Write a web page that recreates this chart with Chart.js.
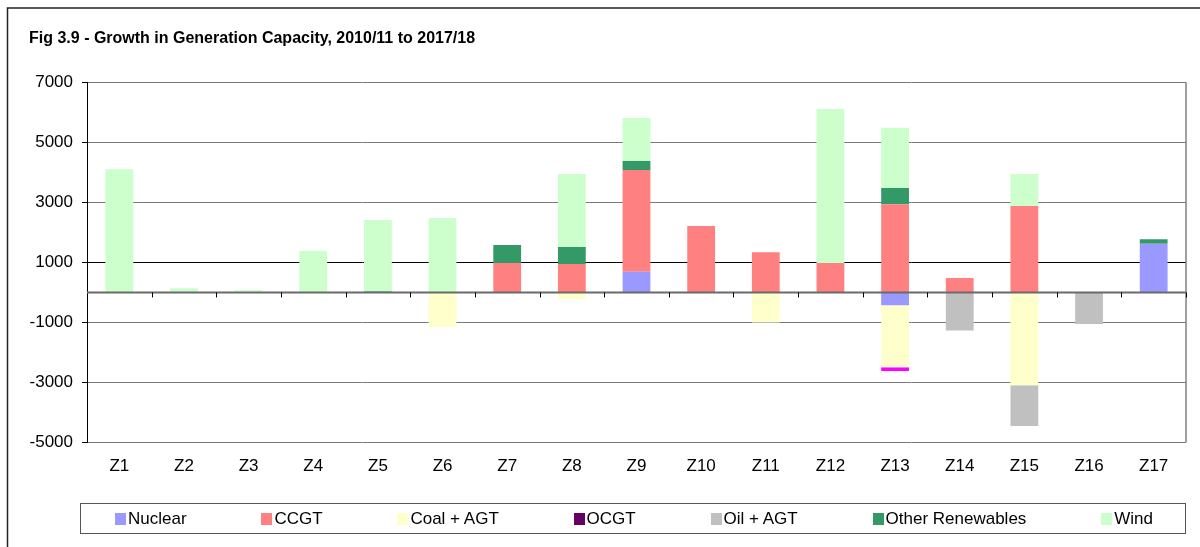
<!DOCTYPE html>
<html>
<head>
<meta charset="utf-8">
<script src="https://cdn.jsdelivr.net/npm/chart.js@4"></script>
<style>
  body { margin: 0; background: #fff; }
  #wrap { position: relative; width: 1200px; height: 547px; overflow: hidden; }
  #legend {
    position: absolute; left: 80px; top: 503px; width: 1106px; height: 31px;
    border: 1.5px solid #555; box-sizing: border-box;
    display: flex; align-items: center; justify-content: space-between;
    padding: 0 32px 0 34px;
    font: 17px "Liberation Sans", Arial, sans-serif; color: #000;
  }
  #legend .item { display: flex; align-items: center; white-space: nowrap; }
  #legend .sw { width: 11px; height: 12px; margin-right: 2px; }
</style>
</head>
<body>
<div id="wrap">
  <canvas id="chart" width="1200" height="547"></canvas>
  <div id="legend"></div>
</div>
<script>
// data (MW)
const zones = ["Z1","Z2","Z3","Z4","Z5","Z6","Z7","Z8","Z9","Z10","Z11","Z12","Z13","Z14","Z15","Z16","Z17"];
const nuclear   = [null, null, null, null, null, null, null, null, 690, null, null, null, -430, null, null, null, 1620];
const ccgt      = [null, null, null, null, null, null, 980, 950, 3390, 2210, 1340, 980, 2940, 480, 2880, null, null];
const coalAgt   = [null, null, null, null, null, -1150, null, -230, null, null, -1000, null, -2060, null, -3090, null, null];
const ocgt      = [null, null, null, null, null, null, null, null, null, null, null, null, null, null, null, null, null];
const oilAgt    = [null, null, null, null, null, null, null, null, null, null, null, null, null, -1270, -1360, -1050, null];
const otherRen  = [null, null, null, null, 30, null, 600, 560, 300, null, null, null, 540, null, null, null, 150];
const wind      = [4100, 140, 70, 1380, 2380, 2480, null, 2430, 1430, null, null, 5130, 2000, null, 1060, null, null];
const unlabeled = [null, null, null, null, null, null, null, null, null, null, null, null, -130, null, null, null, null];
const yTicks = [-5000, -3000, -1000, 1000, 3000, 5000, 7000];

const FONT = "'Liberation Sans', Arial, sans-serif";

const datasets = [
    { label: "Nuclear", data: nuclear, backgroundColor: "#9999FF" },
    { label: "CCGT", data: ccgt, backgroundColor: "#FF8080" },
    { label: "Coal + AGT", data: coalAgt, backgroundColor: "#FFFFCC" },
    { label: "OCGT", data: ocgt, backgroundColor: "#660066" },
    { label: "Oil + AGT", data: oilAgt, backgroundColor: "#C0C0C0" },
    { label: "Other Renewables", data: otherRen, backgroundColor: "#339966" },
    { label: "Wind", data: wind, backgroundColor: "#CCFFCC" },
    { label: "", data: unlabeled, backgroundColor: "#FF00FF", noLegend: true }
];
datasets.forEach(d => {
    d.borderWidth = 0;
    d.categoryPercentage = 1;
    d.barPercentage = 0.43;
});

// frame, zero line and category tick marks
const decor = {
    id: "decor",
    beforeDraw(chart) {
        const c = chart.ctx;
        c.save();
        c.fillStyle = "#fff";
        c.fillRect(0, 0, chart.width, chart.height);
        c.strokeStyle = "#222";
        c.lineWidth = 1.5;
        c.beginPath();
        c.moveTo(7.5, chart.height + 5);
        c.lineTo(7.5, 8);
        c.lineTo(chart.width + 5, 8);
        c.stroke();
        c.restore();
    },
    afterDatasetsDraw(chart) {
        const c = chart.ctx;
        const a = chart.chartArea;
        const y0 = chart.scales.y.getPixelForValue(0);
        c.save();
        c.strokeStyle = "#808080";
        c.lineWidth = 1.5;
        c.beginPath();
        c.moveTo(a.right, a.top);
        c.lineTo(a.right, a.bottom);
        c.stroke();
        c.strokeStyle = "#6a6a6a";
        c.lineWidth = 2;
        c.beginPath();
        c.moveTo(a.left, y0);
        c.lineTo(a.right, y0);
        c.stroke();
        c.strokeStyle = "#000";
        c.lineWidth = 1;
        const w = (a.right - a.left) / zones.length;
        for (let i = 1; i <= zones.length; i++) {
            const px = Math.round(a.left + i * w) + 0.5;
            c.beginPath();
            c.moveTo(px, y0);
            c.lineTo(px, y0 + 5);
            c.stroke();
        }
        c.restore();
    }
};

const ctx = document.getElementById("chart").getContext("2d");
const chart = new Chart(ctx, {
    type: "bar",
    data: { labels: zones, datasets: datasets },
    plugins: [decor],
    options: {
        responsive: false,
        animation: false,
        layout: { padding: { left: 29, right: 14, top: 29, bottom: 56 } },
        plugins: {
            legend: { display: false },
            tooltip: { enabled: false },
            title: {
                display: true,
                text: "Fig 3.9 - Growth in Generation Capacity, 2010/11 to 2017/18",
                align: "start",
                color: "#000",
                font: { family: FONT, size: 16, weight: "bold" },
                padding: { top: 0, bottom: 34 }
            }
        },
        scales: {
            x: {
                stacked: true,
                grid: { display: false, drawTicks: false },
                border: { display: false },
                ticks: { color: "#000", font: { family: FONT, size: 17 }, padding: 14, maxRotation: 0 }
            },
            y: {
                stacked: true,
                min: -5000,
                max: 7000,
                afterBuildTicks: s => { s.ticks = yTicks.map(v => ({ value: v })); },
                afterFit: s => { s.width = 58; },
                grid: {
                    color: c => (c.tick && c.tick.value === 1000 ? "#000" : "#7a7a7a"),
                    lineWidth: 1,
                    tickLength: 5,
                    tickColor: "#000"
                },
                border: { display: true, color: "#000", width: 1 },
                ticks: {
                    color: "#000",
                    font: { family: FONT, size: 17 },
                    padding: 9,
                    callback: v => String(v)
                }
            }
        }
    }
});

// legend built from the chart datasets
const legendEl = document.getElementById("legend");
chart.data.datasets.filter(d => !d.noLegend).forEach(d => {
    const item = document.createElement("div");
    item.className = "item";
    const sw = document.createElement("span");
    sw.className = "sw";
    sw.style.background = d.backgroundColor;
    const txt = document.createElement("span");
    txt.textContent = d.label;
    item.appendChild(sw);
    item.appendChild(txt);
    legendEl.appendChild(item);
});
</script>
</body>
</html>
